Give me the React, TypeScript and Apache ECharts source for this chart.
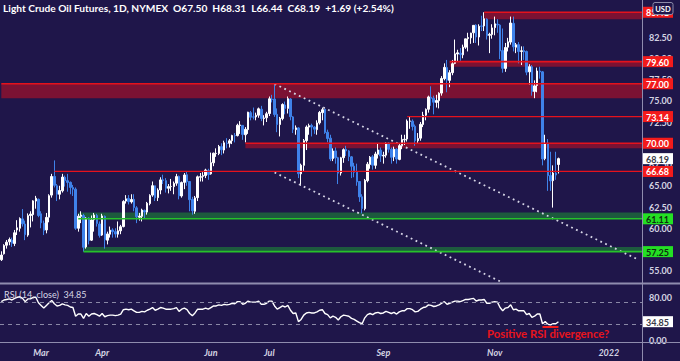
import React, { useEffect, useRef } from "react";
import * as echarts from "echarts";

// ---------- texts ----------
const TITLE = "Light Crude Oil Futures, 1D, NYMEX  O67.50  H68.31  L66.44  C68.19  +1.69 (+2.54%)";
const RSI_TITLE = "RSI (14, close)  34.85";
const NOTE = "Positive RSI divergence?";

// ---------- categories (trading days) ----------
const START = "2021-02-05";
const TOTAL_BARS = 242;
const HOLIDAYS = ["2021-02-15", "2021-04-02", "2021-05-31", "2021-07-05", "2021-09-06", "2021-11-25", "2021-12-24", "2022-01-17"];
const MONTHS = ["Jan", "Feb", "Mar", "Apr", "May", "Jun", "Jul", "Aug", "Sep", "Oct", "Nov", "Dec"];
const SHOWN_LABELS = ["Mar", "Apr", "Jun", "Jul", "Sep", "Nov", "2022"];

// ---------- tick labels (those fully hidden behind tags in the reference are left out) ----------
const PRICE_TICKS = [55, 60, 62.5, 65, 67.5, 72.5, 75, 77.5, 80, 82.5];
const RSI_TICKS = [0, 80];
const RSI_GUIDES = [30, 70];

// ---------- OHLC ----------
const opens = [
  56.3, 57.0, 58.0, 58.4, 58.6, 58.2, 59.8, 60.0, 61.1, 60.5,
  59.2, 61.5, 61.6, 63.2, 63.4, 61.7, 60.6, 59.8, 61.3, 63.9,
  66.1, 65.0, 64.0, 64.4, 66.0, 65.6, 65.4, 64.8, 64.6, 60.0,
  61.4, 61.5, 57.8, 61.2, 58.6, 61.0, 61.5, 60.5, 59.2, 61.4,
  58.6, 59.3, 59.8, 59.6, 59.3, 59.7, 60.2, 63.2, 63.5, 63.1,
  63.4, 62.4, 61.3, 61.4, 62.1, 61.9, 62.9, 63.9, 65.0, 63.6,
  64.5, 65.7, 65.6, 64.7, 64.9, 64.9, 65.3, 66.1, 63.8, 65.4,
  66.3, 65.5, 63.4, 62.0, 63.6, 66.0, 66.1, 66.2, 66.8, 66.4,
  67.7, 68.8, 68.8, 69.6, 69.2, 70.0, 70.0, 70.3, 70.9, 70.9,
  72.1, 72.1, 71.0, 71.6, 73.6, 73.1, 73.1, 73.3, 74.0, 72.9,
  73.0, 73.5, 75.2, 75.2, 73.4, 72.2, 72.9, 74.5, 74.1, 75.2,
  73.1, 71.6, 71.8, 66.4, 67.4, 70.3, 71.9, 72.1, 71.9, 71.6,
  72.4, 73.6, 74.0, 71.3, 70.6, 68.2, 69.1, 68.3, 66.5, 68.3,
  69.3, 69.1, 68.4, 67.3, 66.6, 65.5, 63.7, 62.3, 65.6, 67.5,
  68.4, 67.4, 68.7, 69.2, 68.5, 68.6, 70.0, 69.3, 68.4, 69.3,
  68.1, 69.7, 70.4, 70.5, 72.6, 72.6, 72.0, 70.3, 70.6, 72.2,
  73.3, 74.0, 75.4, 75.3, 74.8, 75.0, 75.9, 77.6, 78.9, 77.4,
  78.3, 79.4, 80.5, 80.6, 80.4, 81.3, 82.3, 82.4, 83.0, 83.9,
  82.5, 83.8, 83.8, 84.6, 82.7, 82.8, 83.6, 84.0, 83.9, 80.9,
  78.8, 81.3, 81.9, 84.1, 81.3, 81.6, 80.8, 80.9, 80.8, 78.4,
  79.0, 76.1, 76.8, 78.5, 78.4, 68.2, 70.0, 66.2, 65.6, 66.5,
  67.5,
];
const highs = [
  57.29, 58.12, 58.62, 58.91, 58.9, 59.8, 60.95, 61.28, 62.26, 60.9,
  61.75, 62.0, 63.3, 63.81, 63.5, 62.0, 60.9, 61.8, 64.0, 66.4,
  67.98, 65.2, 65.0, 66.4, 66.2, 66.4, 65.5, 65.1, 64.8, 61.7,
  62.0, 61.7, 61.3, 61.3, 61.5, 61.8, 61.7, 60.8, 61.7, 61.5,
  59.6, 60.2, 60.0, 60.0, 60.8, 60.4, 63.3, 63.9, 63.9, 64.0,
  64.0, 62.6, 61.8, 62.3, 62.2, 63.1, 64.0, 65.5, 65.0, 64.7,
  66.0, 66.3, 65.9, 65.2, 65.8, 65.5, 66.4, 66.2, 65.5, 66.5,
  66.7, 65.5, 63.7, 63.8, 66.2, 66.5, 66.6, 67.0, 67.0, 68.9,
  68.9, 69.4, 69.8, 70.0, 70.3, 70.6, 70.5, 71.0, 71.2, 72.3,
  72.6, 72.1, 71.9, 73.7, 73.8, 74.2, 73.6, 74.2, 74.4, 73.3,
  73.7, 75.5, 75.7, 76.98, 74.1, 73.1, 74.7, 74.9, 75.5, 75.3,
  73.2, 72.1, 71.9, 67.6, 70.5, 72.1, 72.3, 72.3, 72.0, 72.7,
  73.8, 74.2, 74.0, 71.6, 71.0, 69.4, 69.5, 68.4, 68.4, 69.4,
  69.7, 69.2, 68.5, 67.7, 67.6, 65.5, 64.0, 65.8, 67.8, 68.5,
  68.6, 69.0, 70.0, 69.5, 69.0, 70.1, 70.1, 69.5, 69.6, 69.4,
  69.9, 71.0, 71.0, 72.8, 73.1, 72.8, 72.2, 71.2, 72.5, 73.7,
  74.1, 75.6, 76.7, 75.6, 75.7, 76.0, 77.9, 79.4, 79.8, 78.6,
  79.8, 82.2, 81.0, 81.2, 81.6, 82.3, 83.0, 83.0, 83.9, 84.0,
  84.0, 85.0, 85.41, 84.7, 83.0, 84.0, 84.9, 84.6, 84.0, 83.5,
  81.8, 82.4, 84.9, 84.9, 81.8, 81.9, 81.4, 81.4, 80.9, 79.3,
  79.2, 77.4, 78.9, 79.0, 78.5, 71.0, 70.5, 69.0, 67.4, 69.0,
  68.31,
];
const lows = [
  56.15, 56.9, 57.6, 58.0, 57.8, 57.9, 59.2, 59.6, 60.2, 58.6,
  59.0, 60.1, 60.8, 62.3, 61.3, 60.0, 59.2, 59.4, 60.7, 63.6,
  64.8, 63.2, 63.4, 64.2, 64.9, 64.3, 64.0, 63.8, 59.8, 59.6,
  60.6, 57.25, 57.6, 58.1, 58.5, 59.6, 60.2, 58.9, 59.1, 57.6,
  58.1, 58.9, 58.9, 58.9, 58.9, 59.3, 60.1, 62.9, 62.8, 62.9,
  62.0, 60.6, 60.9, 60.8, 61.1, 61.6, 62.7, 63.7, 63.2, 63.2,
  64.0, 65.2, 64.2, 64.1, 64.4, 64.0, 65.0, 63.4, 63.6, 64.6,
  65.0, 62.0, 61.6, 61.7, 63.2, 65.5, 65.5, 65.9, 65.7, 66.3,
  67.3, 68.4, 68.6, 68.6, 68.8, 69.4, 69.5, 69.9, 70.1, 70.8,
  71.1, 70.4, 70.1, 71.1, 72.7, 72.8, 72.7, 73.0, 72.6, 72.1,
  72.5, 73.2, 74.8, 73.1, 71.3, 70.8, 72.7, 73.4, 73.5, 72.7,
  71.2, 71.0, 65.9, 65.0, 66.7, 69.2, 71.0, 70.8, 71.1, 71.0,
  72.2, 72.7, 71.1, 70.1, 67.9, 67.9, 67.6, 65.2, 66.2, 67.7,
  68.5, 67.9, 65.9, 66.0, 65.0, 63.1, 61.74, 62.1, 65.4, 67.0,
  66.9, 67.0, 68.2, 67.8, 67.6, 68.3, 68.9, 67.6, 67.9, 67.6,
  68.0, 69.3, 69.8, 70.2, 71.7, 71.5, 69.7, 70.0, 70.3, 71.9,
  72.7, 73.6, 74.4, 73.4, 74.2, 74.1, 75.6, 77.4, 76.0, 76.6,
  78.0, 79.3, 79.6, 79.7, 80.0, 81.1, 80.8, 81.7, 81.8, 81.8,
  81.5, 83.2, 83.2, 82.2, 80.6, 82.3, 82.7, 83.0, 79.9, 78.3,
  78.4, 80.8, 81.6, 80.8, 80.6, 79.4, 79.2, 79.8, 78.0, 76.9,
  75.6, 75.3, 76.0, 77.6, 67.4, 68.0, 64.4, 64.4, 62.43, 65.7,
  66.44,
];
const closes = [
  56.85, 57.97, 58.36, 58.68, 58.24, 59.47, 60.05, 61.14, 60.52, 59.24,
  61.49, 61.67, 63.22, 63.53, 61.5, 60.64, 59.75, 61.28, 63.83, 66.09,
  65.05, 64.01, 64.44, 66.02, 65.61, 65.39, 64.8, 64.6, 60.0, 61.42,
  61.55, 57.76, 61.18, 58.56, 60.97, 61.56, 60.55, 59.16, 61.45, 58.65,
  59.33, 59.77, 59.6, 59.32, 59.7, 60.18, 63.15, 63.46, 63.13, 63.38,
  62.44, 61.35, 61.43, 62.14, 61.91, 62.94, 63.86, 65.01, 63.58, 64.49,
  65.69, 65.63, 64.71, 64.9, 64.92, 65.28, 66.08, 63.82, 65.37, 66.27,
  65.49, 63.36, 62.05, 63.58, 66.05, 66.07, 66.21, 66.85, 66.32, 67.72,
  68.83, 68.81, 69.62, 69.23, 70.05, 69.96, 70.29, 70.91, 70.88, 72.12,
  72.15, 71.04, 71.64, 73.66, 73.06, 73.08, 73.3, 74.05, 72.91, 72.98,
  73.47, 75.23, 75.16, 73.37, 72.2, 72.94, 74.56, 74.1, 75.25, 73.13,
  71.65, 71.81, 66.42, 67.42, 70.3, 71.91, 72.07, 71.91, 71.65, 72.39,
  73.62, 73.95, 71.26, 70.56, 68.15, 69.09, 68.28, 66.48, 68.29, 69.25,
  69.09, 68.44, 67.29, 66.59, 65.46, 63.69, 62.32, 65.64, 67.54, 68.36,
  67.42, 68.74, 69.21, 68.5, 68.59, 69.99, 69.29, 68.35, 69.3, 68.14,
  69.72, 70.45, 70.46, 72.61, 72.61, 71.97, 70.29, 70.56, 72.23, 73.3,
  73.98, 75.45, 75.29, 74.83, 75.03, 75.88, 77.62, 78.93, 77.43, 78.3,
  79.35, 80.52, 80.64, 80.44, 81.31, 82.28, 82.44, 82.96, 83.87, 82.5,
  83.76, 83.76, 84.65, 82.66, 82.81, 83.57, 84.05, 83.91, 80.86, 78.81,
  81.27, 81.93, 84.15, 81.34, 81.59, 80.79, 80.88, 80.76, 78.36, 79.01,
  76.1, 76.75, 78.5, 78.39, 68.15, 69.95, 66.18, 65.57, 66.5, 66.26,
  68.19,
];

// ---------- RSI (14) ----------
const rsi = [
  72, 75, 76, 77, 75, 78, 80, 81, 78, 72,
  77, 77, 80, 80, 70, 65, 60, 65, 70, 74,
  68, 64, 65, 68, 66, 65, 62, 61, 45, 49,
  49, 41, 50, 45, 49, 50, 48, 45, 50, 44,
  46, 47, 47, 46, 47, 49, 57, 58, 57, 58,
  55, 52, 52, 54, 53, 56, 58, 61, 56, 58,
  61, 60, 58, 58, 58, 59, 61, 54, 58, 60,
  57, 50, 46, 51, 58, 58, 58, 60, 58, 61,
  64, 64, 66, 65, 67, 66, 67, 69, 68, 72,
  72, 67, 69, 73, 71, 71, 71, 73, 67, 67,
  69, 73, 73, 64, 58, 61, 64, 62, 65, 56,
  50, 51, 35, 39, 47, 51, 52, 51, 51, 53,
  56, 57, 50, 48, 42, 45, 43, 38, 44, 47,
  46, 45, 41, 39, 36, 33, 31, 42, 48, 50,
  48, 51, 52, 50, 51, 54, 52, 50, 52, 49,
  53, 55, 55, 59, 59, 57, 53, 54, 58, 61,
  62, 66, 65, 63, 64, 66, 69, 72, 67, 69,
  71, 73, 73, 72, 74, 76, 76, 77, 78, 73,
  75, 75, 76, 69, 69, 71, 72, 71, 61, 55,
  60, 61, 66, 57, 58, 55, 55, 55, 48, 50,
  43, 45, 49, 49, 31, 35, 30, 29, 31, 31,
  34.85,
];

// ---------- horizontal levels (price, other band edge, first bar, colour kind) ----------
const levelPrice = [85.41, 79.6, 77.0, 73.14, 70.0, 66.68, 61.11, 57.25];
const levelEdge = [84.6, 79.0, 75.3, 73.14, 69.4, 66.68, 61.85, 57.8];
const levelStart = [182, 169, 0, 153, 92, 20, 29, 31];
const levelKind = ["red", "red", "red", "red", "red", "red", "green", "green"];

// ---------- trend channel (bar, price, bar, price) ----------
const trendLines = [
  [103, 76.98, 240, 56.32],
  [103, 66.56, 188, 53.75],
];

// ---------- RSI divergence mark (bar from, bar to, rsi) ----------
const divergenceMark = [204, 210, 26];

// ---------- styling ----------
const BG = "#1f164a";
const FONT = "Lato, 'Noto Sans', sans-serif";
const AXIS_TEXT = "#d4d3e2";
const RED_LINE = "#e5121c";
const RED_FILL = "#7b1233";
const RED_TAG = "#f31b1b";
const GREEN_LINE = "#26c22a";
const GREEN_FILL = "#1d5a3e";
const GREEN_TAG = "#24e024";
const UP = "#ffffff";
const DOWN = "#3f82ea";
const SEP = "#8f8cae";

function buildDates(): string[] {
  const out: string[] = [];
  const d = new Date(START + "T00:00:00Z");
  while (out.length < TOTAL_BARS) {
    const dow = d.getUTCDay();
    const iso = d.toISOString().slice(0, 10);
    if (dow !== 0 && dow !== 6 && HOLIDAYS.indexOf(iso) < 0) out.push(iso);
    d.setUTCDate(d.getUTCDate() + 1);
  }
  return out;
}

export default function App() {
  const ref = useRef<HTMLDivElement>(null);

  useEffect(() => {
    if (!ref.current) return;
    const chart = echarts.init(ref.current, null, { renderer: "svg" });

    const dates = buildDates();
    const labelFor: string[] = dates.map((iso, i) => {
      const m = Number(iso.slice(5, 7)) - 1;
      const isStart = i === 0 || dates[i - 1].slice(5, 7) !== iso.slice(5, 7);
      if (!isStart) return "";
      const txt = m === 0 ? iso.slice(0, 4) : MONTHS[m];
      return SHOWN_LABELS.indexOf(txt) >= 0 ? txt : "";
    });

    const candles = opens.map((o, i) => [o, closes[i], lows[i], highs[i]]);
    const levelData = levelPrice.map((p, i) => [levelStart[i], p, levelEdge[i]]);
    const lastClose = closes[closes.length - 1];
    const lastRsi = rsi[rsi.length - 1];

    const tagFont = "bold 9px " + FONT;

    const tag = (x: number, y: number, text: string, fill: string, color: string) => ({
      type: "group",
      children: [
        { type: "rect", shape: { x: x, y: y - 5.5, width: 31, height: 11 }, style: { fill } },
        {
          type: "text",
          style: { text, x: x + 15.5, y: y + 0.5, fill: color, font: tagFont, align: "center", verticalAlign: "middle" },
        },
      ],
    });

    const option: any = {
      backgroundColor: BG,
      animation: false,
      textStyle: { fontFamily: FONT },
      grid: [
        { left: 0, top: 0, width: 642, height: 283 },
        { left: 0, top: 286.5, width: 642, height: 54 },
      ],
      xAxis: [
        { type: "category", gridIndex: 0, data: dates, boundaryGap: true, show: false },
        {
          type: "category",
          gridIndex: 1,
          data: dates,
          boundaryGap: true,
          axisLine: { show: false },
          axisTick: { show: false },
          axisLabel: {
            interval: (idx: number) => labelFor[idx] !== "",
            formatter: (_v: string, idx: number) => labelFor[idx],
            color: AXIS_TEXT,
            fontSize: 9,
            fontWeight: "bold",
            fontStyle: "italic",
            fontFamily: FONT,
            margin: 7,
          },
        },
      ],
      yAxis: [
        {
          type: "value",
          gridIndex: 0,
          position: "right",
          min: 53.559,
          max: 86.853,
          splitLine: { show: false },
          axisLine: { show: false },
          axisTick: { show: false },
          axisLabel: {
            customValues: PRICE_TICKS,
            formatter: (v: number) => v.toFixed(2),
            color: AXIS_TEXT,
            fontSize: 9,
            fontWeight: "bold",
            fontFamily: FONT,
            margin: 7,
          },
        },
        {
          type: "value",
          gridIndex: 1,
          position: "right",
          min: 0,
          max: 100,
          splitLine: { show: false },
          axisLine: { show: false },
          axisTick: { show: false },
          axisLabel: {
            customValues: RSI_TICKS,
            formatter: (v: number) => v.toFixed(2),
            color: AXIS_TEXT,
            fontSize: 9,
            fontWeight: "bold",
            fontFamily: FONT,
            margin: 7,
          },
        },
      ],
      series: [
        {
          // level bands (behind candles)
          type: "custom",
          xAxisIndex: 0,
          yAxisIndex: 0,
          z: 1,
          silent: true,
          data: levelData,
          encode: { x: 0, y: 1 },
          renderItem: (params: any, api: any) => {
            const cs = params.coordSys;
            const start = api.value(0);
            const p = api.value(1);
            const e = api.value(2);
            if (p === e) return null;
            const a = api.coord([start, p]);
            const b = api.coord([start, e]);
            const right = cs.x + cs.width;
            const top = Math.min(a[1], b[1]);
            const kind = levelKind[params.dataIndex];
            return {
              type: "rect",
              shape: { x: a[0], y: top, width: right - a[0], height: Math.abs(a[1] - b[1]) },
              style: { fill: kind === "red" ? RED_FILL : GREEN_FILL },
            };
          },
        },
        {
          type: "candlestick",
          xAxisIndex: 0,
          yAxisIndex: 0,
          z: 3,
          barWidth: 2,
          data: candles,
          itemStyle: { color: UP, color0: DOWN, borderColor: UP, borderColor0: DOWN, borderWidth: 1 },
        },
        {
          // trend channel
          type: "custom",
          xAxisIndex: 0,
          yAxisIndex: 0,
          z: 4,
          silent: true,
          data: trendLines,
          encode: { x: [0, 2], y: [1, 3] },
          renderItem: (_params: any, api: any) => {
            const a = api.coord([api.value(0), api.value(1)]);
            const b = api.coord([api.value(2), api.value(3)]);
            return {
              type: "line",
              shape: { x1: a[0], y1: a[1], x2: b[0], y2: b[1] },
              style: { stroke: "#d6d5e6", lineWidth: 1.8, lineDash: [1.8, 3.6] },
            };
          },
        },
        {
          // level lines + axis tags
          type: "custom",
          xAxisIndex: 0,
          yAxisIndex: 0,
          z: 6,
          silent: true,
          data: levelData,
          encode: { x: 0, y: 1 },
          renderItem: (params: any, api: any) => {
            const cs = params.coordSys;
            const p = api.value(1);
            const e = api.value(2);
            const a = api.coord([api.value(0), p]);
            const right = cs.x + cs.width;
            const kind = levelKind[params.dataIndex];
            const red = kind === "red";
            return {
              type: "group",
              children: [
                {
                  type: "line",
                  shape: { x1: a[0], y1: a[1], x2: right, y2: a[1] },
                  style: { stroke: red ? RED_LINE : GREEN_LINE, lineWidth: p === e ? 1.2 : 1.6 },
                },
                tag(right, a[1], p.toFixed(2), red ? RED_TAG : GREEN_TAG, red ? "#ffffff" : "#0e2c10"),
              ],
            };
          },
        },
        {
          // last price tag
          type: "custom",
          xAxisIndex: 0,
          yAxisIndex: 0,
          z: 6,
          silent: true,
          data: [[closes.length - 1, lastClose]],
          encode: { x: 0, y: 1 },
          renderItem: (params: any, api: any) => {
            const cs = params.coordSys;
            const a = api.coord([api.value(0), api.value(1)]);
            return tag(cs.x + cs.width, a[1], api.value(1).toFixed(2), "#ffffff", "#3a3a48");
          },
        },
        {
          type: "line",
          xAxisIndex: 1,
          yAxisIndex: 1,
          z: 3,
          data: rsi,
          symbol: "none",
          lineStyle: { color: "#ffffff", width: 1.4 },
          markLine: {
            silent: true,
            symbol: "none",
            label: { show: false },
            data: [
              ...RSI_GUIDES.map((g) => ({ yAxis: g, lineStyle: { color: "#8a88a6", width: 1, type: [4, 4] } })),
              [
                { coord: [divergenceMark[0], divergenceMark[2]], lineStyle: { color: RED_TAG, width: 2, type: "solid" } },
                { coord: [divergenceMark[1], divergenceMark[2]] },
              ],
            ],
          },
        },
        {
          // last RSI tag
          type: "custom",
          xAxisIndex: 1,
          yAxisIndex: 1,
          z: 6,
          silent: true,
          data: [[rsi.length - 1, lastRsi]],
          encode: { x: 0, y: 1 },
          renderItem: (params: any, api: any) => {
            const cs = params.coordSys;
            const a = api.coord([api.value(0), api.value(1)]);
            return tag(cs.x + cs.width, a[1], api.value(1).toFixed(2), "#ffffff", "#3a3a48");
          },
        },
      ],
      graphic: [
        {
          type: "text",
          left: 3,
          top: 3,
          z: 50,
          style: { text: TITLE, fill: "#ffffff", font: "bold 10.2px " + FONT },
        },
        {
          type: "text",
          left: 4,
          top: 290,
          z: 50,
          style: { text: RSI_TITLE, fill: "#d8d7e6", font: "9px " + FONT },
        },
        {
          type: "text",
          left: 487,
          top: 328,
          z: 50,
          style: { text: NOTE, fill: "#e8141c", font: "bold 11.3px " + FONT },
        },
        { type: "line", z: 40, shape: { x1: 0, y1: 283.5, x2: 680, y2: 283.5 }, style: { stroke: SEP, lineWidth: 2 } },
        { type: "line", z: 40, shape: { x1: 0, y1: 342.5, x2: 680, y2: 342.5 }, style: { stroke: SEP, lineWidth: 1 } },
        { type: "line", z: 40, shape: { x1: 642.5, y1: 0, x2: 642.5, y2: 361 }, style: { stroke: SEP, lineWidth: 1 } },
        {
          type: "group",
          z: 60,
          children: [
            { type: "rect", z: 60, shape: { x: 653, y: 2.5, width: 20, height: 12, r: 2 }, style: { fill: BG, stroke: "#8c8aa8", lineWidth: 1 } },
            {
              type: "text",
              z: 61,
              style: { text: "USD", x: 663, y: 9, fill: "#ffffff", font: "bold 7.5px " + FONT, align: "center", verticalAlign: "middle" },
            },
          ],
        },
      ],
    };

    chart.setOption(option);
    return () => chart.dispose();
  }, []);

  return <div ref={ref} style={{ position: "fixed", left: 0, top: 0, width: 680, height: 361 }} />;
}
